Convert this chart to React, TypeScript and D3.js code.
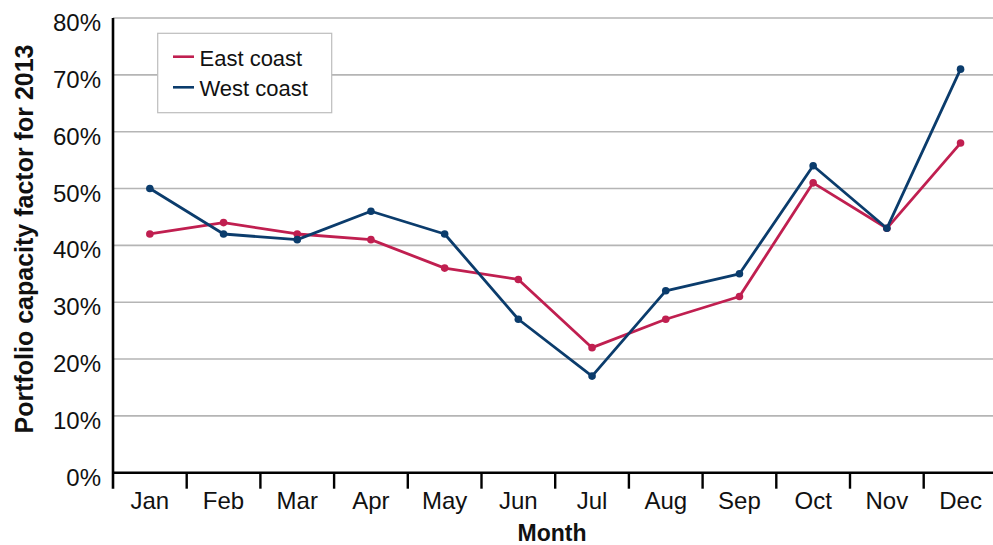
import React from "react";
import * as d3 from "d3";

// Monthly portfolio capacity factors, 2013
const months = ["Jan", "Feb", "Mar", "Apr", "May", "Jun", "Jul", "Aug", "Sep", "Oct", "Nov", "Dec"];
const eastCoast = [0.42, 0.44, 0.42, 0.41, 0.36, 0.34, 0.22, 0.27, 0.31, 0.51, 0.43, 0.58];
const westCoast = [0.50, 0.42, 0.41, 0.46, 0.42, 0.27, 0.17, 0.32, 0.35, 0.54, 0.43, 0.71];
const yTicks = [0, 0.1, 0.2, 0.3, 0.4, 0.5, 0.6, 0.7, 0.8];

const seriesNames = ["East coast", "West coast"];
const seriesColors = ["#c01f50", "#0b3c6c"];

const W = 993;
const H = 545;
const left = 113;
const bandW = 73.7;
const top = 18;
const bottom = 472.7;

const FONT = "'Liberation Sans', Arial, Helvetica, sans-serif";

export default function App() {
  const x = d3.scaleBand<string>().domain(months).range([left, left + bandW * months.length]).padding(0);
  const y = d3.scaleLinear().domain([0, 0.8]).range([bottom, top]);
  const cx = (m: string) => (x(m) as number) + x.bandwidth() / 2;
  const fmt = d3.format(".0%");

  const series = [eastCoast, westCoast];
  const line = d3
    .line<number>()
    .x((_, i) => cx(months[i]))
    .y((v) => y(v));

  const xEnd = left + bandW * months.length;

  return (
    <svg
      width={W}
      height={H}
      style={{ position: "absolute", left: 0, top: 0, background: "#fff" }}
      fontFamily={FONT}
    >
      {/* horizontal gridlines */}
      {yTicks.slice(1).map((t) => (
        <line key={t} x1={left} x2={xEnd} y1={y(t)} y2={y(t)} stroke="#b5b5b5" strokeWidth={1.6} />
      ))}

      {/* y tick labels */}
      {yTicks.map((t) => (
        <text key={t} x={101} y={y(t) + 13} textAnchor="end" fontSize={24} fill="#111">
          {fmt(t)}
        </text>
      ))}

      {/* axes */}
      <line x1={left} x2={left} y1={top} y2={bottom + 16} stroke="#000" strokeWidth={2.6} />
      <line x1={left} x2={xEnd} y1={bottom} y2={bottom} stroke="#000" strokeWidth={2.6} />
      {months.slice(1).map((m) => (
        <line
          key={m}
          x1={x(m) as number}
          x2={x(m) as number}
          y1={bottom}
          y2={bottom + 16}
          stroke="#000"
          strokeWidth={2.4}
        />
      ))}

      {/* month labels */}
      {months.map((m) => (
        <text key={m} x={cx(m)} y={508.5} textAnchor="middle" fontSize={24} fill="#111">
          {m}
        </text>
      ))}

      {/* axis titles */}
      <text x={552} y={541} textAnchor="middle" fontSize={23} fontWeight="bold" fill="#111">
        Month
      </text>
      <text
        transform={`translate(33, 239) rotate(-90)`}
        textAnchor="middle"
        fontSize={25}
        fontWeight="bold"
        fill="#111"
      >
        Portfolio capacity factor for 2013
      </text>

      {/* series lines and markers */}
      {series.map((vals, si) => (
        <g key={si}>
          <path d={line(vals) || ""} fill="none" stroke={seriesColors[si]} strokeWidth={2.8} strokeLinejoin="round" />
          {vals.map((v, i) => (
            <circle key={i} cx={cx(months[i])} cy={y(v)} r={3.8} fill={seriesColors[si]} />
          ))}
        </g>
      ))}

      {/* legend */}
      <rect x={157.7} y={33.3} width={174} height={79.4} fill="#fff" stroke="#bdbdbd" strokeWidth={1.2} />
      {seriesNames.map((name, i) => (
        <g key={name}>
          <line
            x1={173}
            x2={194}
            y1={56.7 + i * 30.6}
            y2={56.7 + i * 30.6}
            stroke={seriesColors[i]}
            strokeWidth={2.6}
          />
          <text x={199.5} y={65.5 + i * 30.6} fontSize={22} fill="#111">
            {name}
          </text>
        </g>
      ))}
    </svg>
  );
}
